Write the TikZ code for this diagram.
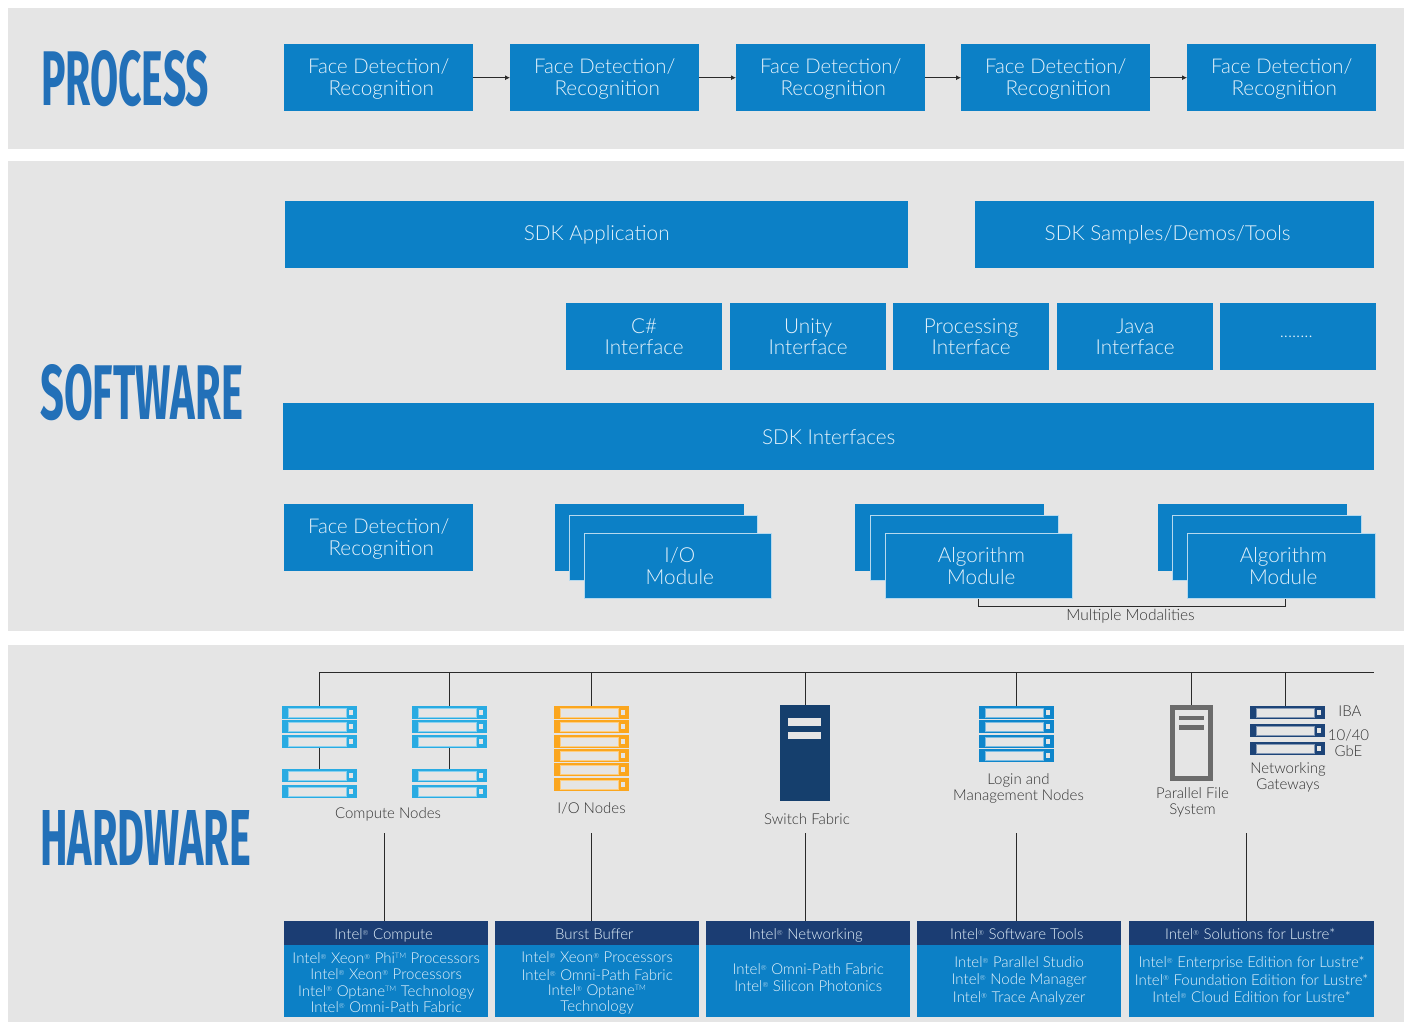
\documentclass[tikz,border=0pt]{standalone}
\usepackage{fontspec}
\usepackage{graphicx}
\usetikzlibrary{arrows.meta,calc}
\setmainfont{Lato}[UprightFont=* Light,BoldFont=* Black]
\newfontfamily\headfont{Fira Sans}[UprightFont=* Bold]
\definecolor{panelc}{HTML}{E5E5E5}
\definecolor{boxc}{HTML}{0C80C6}
\definecolor{darkc}{HTML}{1B3D73}
\definecolor{titlec}{HTML}{2270B8}
\definecolor{computec}{HTML}{29ABE2}
\definecolor{orangec}{HTML}{FBA61E}
\definecolor{loginc}{HTML}{0F86CB}
\definecolor{gatec}{HTML}{1D4478}
\definecolor{switchc}{HTML}{153F6D}
\definecolor{fsc}{HTML}{6B6B6B}
\definecolor{boxtext}{HTML}{E4F2FB}
\definecolor{labelc}{HTML}{333333}
\definecolor{linec}{HTML}{2A2A2A}
\newcommand{\Rg}{\raisebox{4.3pt}{\fontsize{7}{7}\selectfont ®}\kern.5pt}
\newcommand{\Tm}{\raisebox{5pt}{\fontsize{7.5}{7.5}\selectfont TM}\kern.5pt}
\newcommand{\Sh}[1]{\hspace*{#1pt}}
\newcommand{\Fl}{\rule{0pt}{17pt}}
\newcommand{\Hs}{\rule[-3pt]{0pt}{19pt}}
\newcommand{\Up}[1]{\rule[-#1pt]{0pt}{#1pt}}
\newcommand{\Dn}[1]{\rule{0pt}{#1pt}}
\tikzset{
  bx/.style={fill=boxc,text=boxtext,inner sep=0pt,anchor=north west,align=center,font=\fontsize{20.7}{21.5}\selectfont},
  edged/.style={bx,draw=white!70!boxc,line width=.6pt},
  hdr/.style={bx,fill=darkc,font=\fontsize{15}{16}\selectfont},
  body/.style={bx,font=\fontsize{15}{16.3}\selectfont},
  bodyw/.style={bx,font=\fontsize{15}{17.4}\selectfont},
  lab/.style={text=labelc,inner sep=0pt,align=center,font=\fontsize{15}{16}\selectfont},
  title/.style={text=titlec,inner sep=0pt,anchor=north west},
  conn/.style={draw=linec,line width=.9pt},
  srv/.style={inner sep=0pt,anchor=north west,minimum width=75pt,minimum height=13pt},
}
% name, x1, y1, x2, y2, style, text
\newcommand{\bxx}[7]{\node[#6,minimum width={(#4-#2)*1pt},minimum height={(#5-#3)*1pt}] (#1) at (#2,#3) {#7};}
% name, x, y, colour
\newcommand{\srvunit}[4]{%
  \node[srv,fill=#4] (#1) at (#2,#3) {};
  \fill[panelc,draw=white!45!#4,line width=.4pt] ([shift={(6,2.2)}]#1.north west) rectangle ([shift={(64,11)}]#1.north west);
  \fill[panelc] ([shift={(66.5,4.2)}]#1.north west) rectangle ([shift={(70.5,9)}]#1.north west);
}
\newcommand{\FD}{\fontsize{20.3}{21.5}\selectfont\Fl Face Detection/\\\fontsize{20.7}{21.5}\selectfont\Sh{5}Recognition}
\begin{document}
\begin{tikzpicture}[x=1pt,y=-1pt]
\useasboundingbox (0,0) rectangle (1406,1022);
\fill[white] (0,0) rectangle (1406,1022);
\fill[panelc] (8,8) rectangle (1404,149);
\fill[panelc] (8,161) rectangle (1404,631);
\fill[panelc] (8,645) rectangle (1404,1022);
% titles
\node[title] (tp) at (41,50) {\resizebox{168pt}{55pt}{\headfont PROCESS}};
\node[title] (ts) at (40,364) {\resizebox{203pt}{55pt}{\headfont SOFTWARE}};
\node[title] (th) at (40,810) {\resizebox{211pt}{55pt}{\headfont HARDWARE}};
% process
\bxx{p1}{284}{44}{473}{111}{bx}{\FD}
\bxx{p2}{510}{44}{699}{111}{bx}{\FD}
\bxx{p3}{736}{44}{925}{111}{bx}{\FD}
\bxx{p4}{961}{44}{1150}{111}{bx}{\FD}
\bxx{p5}{1187}{44}{1376}{111}{bx}{\FD}
\foreach \a/\b in {p1/p2,p2/p3,p3/p4,p4/p5}
  \draw[conn,-{Latex[length=5pt,width=5pt]}] (\a) -- (\b);
% software
\bxx{app}{285}{201}{908}{268}{bx}{SDK Application}
\bxx{samples}{975}{201}{1374}{268}{bx}{\Sh{-14}SDK Samples/Demos/Tools}
\bxx{csh}{566}{303}{722}{370}{bx}{C\#\\Interface}
\bxx{unity}{730}{303}{886}{370}{bx}{Unity\\Interface}
\bxx{proc}{893}{303}{1049}{370}{bx}{Processing\\Interface}
\bxx{java}{1057}{303}{1213}{370}{bx}{Java\\Interface}
\bxx{more}{1220}{303}{1376}{370}{bx}{\fontsize{17.5}{18}\selectfont \Sh{-4}........}
\bxx{sdk}{283}{403}{1374}{470}{bx}{SDK Interfaces}
\bxx{fd}{284}{504}{473}{571}{bx}{\FD}
\bxx{ioa}{555}{504}{744}{571}{bx}{}
\bxx{iob}{569}{515}{757}{580}{edged}{}
\bxx{ioc}{584}{533}{771}{598}{edged}{\Sh{4}I/O\\\Sh{4}Module}
\bxx{ala}{855}{504}{1044}{571}{bx}{}
\bxx{alb}{870}{515}{1058}{580}{edged}{}
\bxx{alc}{885}{533}{1072}{598}{edged}{\Sh{5}Algorithm\\\Sh{5}Module}
\bxx{bla}{1158}{504}{1347}{571}{bx}{}
\bxx{blb}{1172}{515}{1361}{580}{edged}{}
\bxx{blc}{1187}{533}{1375}{598}{edged}{\Sh{4}Algorithm\\\Sh{4}Module}
\coordinate (brk) at ($(blc.south)+(4,0)$);
\draw[conn] (alc.south) -- ++(0,8) -| (brk);
\node[lab,font=\fontsize{15.5}{16}\selectfont] (mm) at (1130.5,616) {Multiple Modalities};
% hardware: bus
\coordinate (busl) at (320,672);
\coordinate (busr) at (1374,672);
\draw[conn] (busl) -- (busr);
% servers
\srvunit{ca1}{282}{706}{computec}
\srvunit{ca2}{282}{720}{computec}
\srvunit{ca3}{282}{735}{computec}
\srvunit{ca4}{282}{769}{computec}
\srvunit{ca5}{282}{785}{computec}
\srvunit{cb1}{412}{706}{computec}
\srvunit{cb2}{412}{720}{computec}
\srvunit{cb3}{412}{735}{computec}
\srvunit{cb4}{412}{769}{computec}
\srvunit{cb5}{412}{785}{computec}
\srvunit{io1}{554}{706}{orangec}
\srvunit{io2}{554}{720}{orangec}
\srvunit{io3}{554}{735}{orangec}
\srvunit{io4}{554}{749}{orangec}
\srvunit{io5}{554}{763}{orangec}
\srvunit{io6}{554}{778}{orangec}
\srvunit{lg1}{979}{706}{loginc}
\srvunit{lg2}{979}{720}{loginc}
\srvunit{lg3}{979}{735}{loginc}
\srvunit{lg4}{979}{749}{loginc}
\srvunit{gw1}{1250}{706}{gatec}
\srvunit{gw2}{1250}{724}{gatec}
\srvunit{gw3}{1250}{742}{gatec}
% switch
\node[inner sep=0pt,anchor=north west,fill=switchc,minimum width=50pt,minimum height=96pt] (sw) at (780,705) {};
\fill[panelc] ([shift={(8,13)}]sw.north west) rectangle ([shift={(41,21)}]sw.north west);
\fill[panelc] ([shift={(8,27)}]sw.north west) rectangle ([shift={(41,34)}]sw.north west);
% file system
\node[inner sep=0pt,anchor=north west,fill=panelc,draw=fsc,line width=4.5pt,minimum width=38pt,minimum height=71pt] (fs) at (1170,705) {};
\fill[fsc] ([shift={(9,11)}]fs.north west) rectangle ([shift={(34,15)}]fs.north west);
\fill[fsc] ([shift={(9,20)}]fs.north west) rectangle ([shift={(34,25)}]fs.north west);
% drops from bus
\coordinate (gwtop) at ($(gw1.north)+(-2.5,0)$);
\foreach \n in {ca1,cb1,io1,sw,lg1,fs}
  \draw[conn] (busl -| \n.north) -- (\n.north);
\draw[conn] (busl -| gwtop) -- (gwtop);
\draw[conn] (ca3.south) -- (ca4.north);
\draw[conn] (cb3.south) -- (cb4.north);
% labels
\node[lab] (lc) at (388,814) {Compute Nodes};
\node[lab] (li) at (591.5,808) {I/O Nodes};
\node[lab] (ls) at (807,819) {Switch Fabric};
\node[lab] (ll) at (1018.5,788) {Login and\\Management Nodes};
\node[lab] (lf) at (1192.5,802.5) {Parallel File\\System};
\node[lab] (ln) at (1288,777.5) {Networking\\Gateways};
\node[lab] (liba) at (1350,711) {IBA};
\node[lab] (lgbe) at (1348.5,743.5) {10/40\\GbE};
% product boxes
\bxx{h1}{284}{921}{488}{945}{hdr}{\Hs\Sh{-5}Intel\Rg{} Compute}
\bxx{b1}{284}{945}{488}{1017}{body}{\Dn{13.5}Intel\Rg{} Xeon\Rg{} Phi\Tm{} Processors\\Intel\Rg{} Xeon\Rg{} Processors\\Intel\Rg{} Optane\Tm{} Technology\\Intel\Rg{} Omni-Path Fabric}
\bxx{h2}{495}{921}{699}{945}{hdr}{\Hs\Sh{-6}Burst Buffer}
\bxx{b2}{495}{945}{699}{1017}{body}{\Dn{15}Intel\Rg{} Xeon\Rg{} Processors\\[1.5pt]Intel\Rg{} Omni-Path Fabric\\[-1.5pt]Intel\Rg{} Optane\Tm{}\\Technology}
\bxx{h3}{706}{921}{910}{945}{hdr}{\Hs\Sh{-5}Intel\Rg{} Networking}
\bxx{b3}{706}{945}{910}{1017}{bodyw}{Intel\Rg{} Omni-Path Fabric\\Intel\Rg{} Silicon Photonics\Up{7}}
\bxx{h4}{917}{921}{1121}{945}{hdr}{\Hs\Sh{-5}Intel\Rg{} Software Tools}
\bxx{b4}{917}{945}{1121}{1017}{bodyw}{Intel\Rg{} Parallel Studio\\Intel\Rg{} Node Manager\\Intel\Rg{} Trace Analyzer\Up{3.5}}
\bxx{h5}{1129}{921}{1374}{945}{hdr}{\Hs\Sh{-3}Intel\Rg{} Solutions for Lustre*}
\bxx{b5}{1129}{945}{1374}{1017}{bodyw}{Intel\Rg{} Enterprise Edition for Lustre*\\Intel\Rg{} Foundation Edition for Lustre*\\Intel\Rg{} Cloud Edition for Lustre*\Up{3.5}}
% drops to product boxes
\coordinate (d1) at (384,833);
\coordinate (d2) at (591,833);
\coordinate (d3) at (805.5,833);
\coordinate (d4) at (1016,833);
\coordinate (d5) at (1246.5,833);
\foreach \c/\h in {d1/h1,d2/h2,d3/h3,d4/h4,d5/h5}
  \draw[conn] (\c) -- (\c |- \h.north);
\end{tikzpicture}
\end{document}
